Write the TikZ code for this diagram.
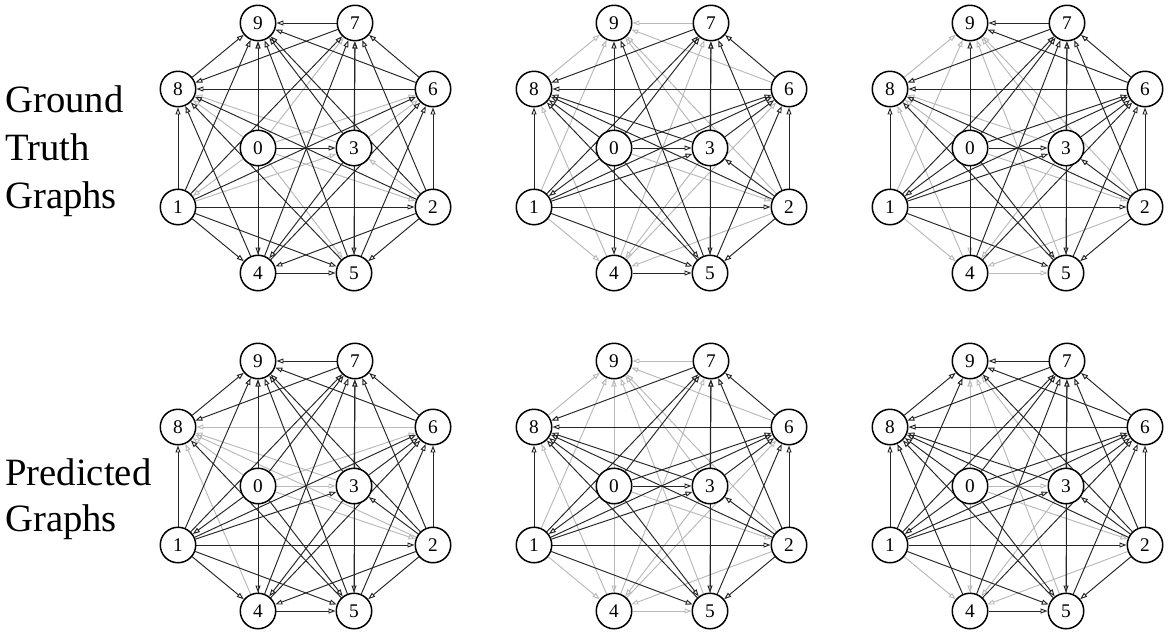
\documentclass[tikz,border=0pt]{standalone}
\usepackage{fontspec}
\setmainfont{Liberation Serif}
\usepackage{tikz}
\usetikzlibrary{arrows.meta,backgrounds}

% node spots of one graph, in pixels of the figure
\newcommand{\nodespots}{9/258/23, 7/355/23, 8/178/89, 6/433/89, 0/258/148, 3/354/148, 1/178/207, 2/433/207, 4/258/273, 5/354/273}

\begin{document}
\begin{tikzpicture}[
    x=0.02cm, y=-0.02cm,
    vertex/.style={circle, draw, fill=white, line width=0.85pt, minimum size=0.71cm, inner sep=0pt, font=\fontsize{11}{13}\selectfont},
    arrow/.style={-{Triangle[open, length=0.14cm, width=0.1cm]}, draw=black!85, line width=0.55pt},
    faintarrow/.style={arrow, draw=black!27},
    rowlabel/.style={anchor=base west, inner sep=0pt, font=\fontsize{22}{26}\selectfont}
]
\useasboundingbox (0,0) rectangle (1170,636);

% Row labels
\node[rowlabel] (gtlabel1) at (5,112) {Ground};
\node[rowlabel] (gtlabel2) at (5,160) {Truth};
\node[rowlabel] (gtlabel3) at (5,208) {Graphs};
\node[rowlabel] (predlabel1) at (5,485) {Predicted};
\node[rowlabel] (predlabel2) at (5,531) {Graphs};

% Ground truth, left
\foreach \n/\x/\y in \nodespots \node[vertex] (a\n) at (\x,\y) {\n};
\begin{scope}[on background layer]
\foreach \s/\t in {0/1, 0/2, 0/5, 0/6, 0/7, 0/8, 1/3, 2/3, 3/6, 3/8}
    \draw[faintarrow] (a\s) -- (a\t);
\foreach \s/\t in {0/3, 0/4, 0/9, 1/2, 1/4, 1/5, 1/6, 1/7, 1/8, 1/9, 2/4, 2/5, 2/6, 2/7, 2/8, 2/9, 3/4, 3/5, 3/7, 3/9, 4/5, 4/6, 4/7, 4/8, 4/9, 5/6, 5/7, 5/8, 5/9, 6/7, 6/8, 6/9, 7/8, 7/9, 8/9}
    \draw[arrow] (a\s) -- (a\t);
\end{scope}

% Ground truth, middle
\foreach \n/\x/\y in \nodespots \node[vertex] (b\n) at ({\x+356},\y) {\n};
\begin{scope}[on background layer]
\foreach \s/\t in {0/2, 1/4, 1/9, 2/4, 2/9, 3/4, 3/9, 4/6, 4/7, 4/8, 4/9, 6/9, 7/9, 8/9}
    \draw[faintarrow] (b\s) -- (b\t);
\foreach \s/\t in {0/1, 0/3, 0/4, 0/5, 0/6, 0/7, 0/8, 0/9, 1/2, 1/3, 1/5, 1/6, 1/7, 1/8, 2/3, 2/5, 2/6, 2/7, 2/8, 3/5, 3/6, 3/7, 3/8, 4/5, 5/6, 5/7, 5/8, 5/9, 6/7, 6/8, 7/8}
    \draw[arrow] (b\s) -- (b\t);
\end{scope}

% Ground truth, right
\foreach \n/\x/\y in \nodespots \node[vertex] (c\n) at ({\x+712},\y) {\n};
\begin{scope}[on background layer]
\foreach \s/\t in {0/2, 0/4, 0/8, 0/9, 1/4, 1/9, 2/4, 2/9, 3/4, 3/8, 3/9, 4/5, 4/8, 5/9, 8/9}
    \draw[faintarrow] (c\s) -- (c\t);
\foreach \s/\t in {0/1, 0/3, 0/5, 0/6, 0/7, 1/2, 1/3, 1/5, 1/6, 1/7, 1/8, 2/3, 2/5, 2/6, 2/7, 2/8, 3/5, 3/6, 3/7, 4/6, 4/7, 4/9, 5/6, 5/7, 5/8, 6/7, 6/8, 6/9, 7/8, 7/9}
    \draw[arrow] (c\s) -- (c\t);
\end{scope}

% Predicted, left
\foreach \n/\x/\y in \nodespots \node[vertex] (d\n) at (\x,{\y+338}) {\n};
\begin{scope}[on background layer]
\foreach \s/\t in {0/2, 0/3, 0/6, 0/8, 2/8, 3/8, 4/8, 6/8}
    \draw[faintarrow] (d\s) -- (d\t);
\foreach \s/\t in {0/1, 0/4, 0/5, 0/7, 0/9, 1/2, 1/3, 1/4, 1/5, 1/6, 1/7, 1/8, 1/9, 2/3, 2/4, 2/5, 2/6, 2/7, 2/9, 3/4, 3/5, 3/6, 3/7, 3/9, 4/5, 4/6, 4/7, 4/9, 5/6, 5/7, 5/8, 5/9, 6/7, 6/9, 7/8, 7/9, 8/9}
    \draw[arrow] (d\s) -- (d\t);
\end{scope}

% Predicted, middle
\foreach \n/\x/\y in \nodespots \node[vertex] (e\n) at ({\x+356},{\y+338}) {\n};
\begin{scope}[on background layer]
\foreach \s/\t in {0/2, 0/4, 0/9, 1/4, 1/9, 2/4, 2/9, 3/4, 3/9, 4/5, 4/6, 4/7, 4/8, 4/9, 5/9, 6/9, 7/9, 8/9}
    \draw[faintarrow] (e\s) -- (e\t);
\foreach \s/\t in {0/1, 0/3, 0/5, 0/6, 0/7, 0/8, 1/2, 1/3, 1/5, 1/6, 1/7, 1/8, 2/3, 2/5, 2/6, 2/7, 2/8, 3/5, 3/6, 3/7, 3/8, 5/6, 5/7, 5/8, 6/7, 6/8, 7/8}
    \draw[arrow] (e\s) -- (e\t);
\end{scope}

% Predicted, right
\foreach \n/\x/\y in \nodespots \node[vertex] (f\n) at ({\x+712},{\y+338}) {\n};
\begin{scope}[on background layer]
\foreach \s/\t in {0/2, 0/3, 0/4, 0/9, 1/4, 2/4, 3/4, 3/9, 4/9, 5/9}
    \draw[faintarrow] (f\s) -- (f\t);
\foreach \s/\t in {0/1, 0/5, 0/6, 0/7, 0/8, 1/2, 1/3, 1/5, 1/6, 1/7, 1/8, 1/9, 2/3, 2/5, 2/6, 2/7, 2/8, 2/9, 3/5, 3/6, 3/7, 3/8, 4/5, 4/6, 4/7, 4/8, 5/6, 5/7, 5/8, 6/7, 6/8, 6/9, 7/8, 7/9, 8/9}
    \draw[arrow] (f\s) -- (f\t);
\end{scope}

\end{tikzpicture}
\end{document}
